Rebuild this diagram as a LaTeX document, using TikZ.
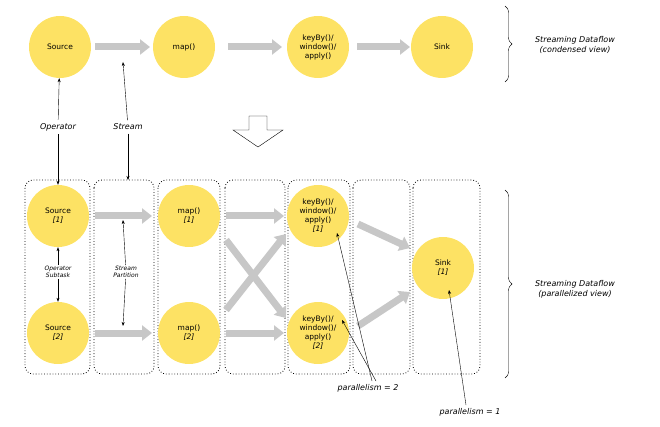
\documentclass[tikz,border=0pt]{standalone}
\usepackage{fontspec}
\setmainfont{DejaVu Sans}
\usetikzlibrary{arrows.meta,decorations.pathreplacing}
\begin{document}
\begin{tikzpicture}[x=1pt,y=-1pt,
  op/.style={circle,fill=yellow!70!orange!60,minimum size=62pt,inner sep=0pt,align=center,font=\fontsize{7.5}{9}\selectfont},
  ga/.style={draw=black!22,line width=7pt,-{Triangle[width=15pt,length=10pt]}},
  ta/.style={-{Stealth[length=4pt]},thin},
  box/.style={draw,dotted,thick,rounded corners=8pt},
  lab/.style={font=\fontsize{8}{10}\selectfont\itshape,align=center},
  sl/.style={font=\fontsize{6}{7}\selectfont\itshape,align=center,fill=white,inner sep=1pt}]
\useasboundingbox (0,0) rectangle (660,427);
% boxes
\foreach \a/\b in {25/90,94/154,158/220,225/285,288/350,353/410,413/480}
  \draw[box] (\a,180) rectangle (\b,374);
% top
\node[op] (s) at (60,47) {Source};
\node[op] (m) at (184,47) {map()};
\node[op] (k) at (318,47) {keyBy()/\\window()/\\apply()};
\node[op] (z) at (442,47) {Sink};
\draw[ga] (95,47) -- (150,47);
\draw[ga] (228,47) -- (282,47);
\draw[ga] (357,47) -- (410,47);
\draw[decorate,decoration={brace,amplitude=7pt}] (505,6) -- (505,82);
\node[lab] at (575,45) {Streaming Dataflow\\(condensed view)};
\node[lab] (opl) at (58,127) {Operator};
\node[lab] (stl) at (128,127) {Stream};
\draw[ta] (opl) -- (s);
\draw[ta] (stl) -- (123,62);
\draw[thin] (249,116) -- (267,116) -- (267,130) -- (283,130) -- (258,147) -- (233,130) -- (249,130) -- cycle;
\node[op] (s1) at (58,216) {Source\\\textit{[1]}};
\node[op] (s2) at (58,333) {Source\\\textit{[2]}};
\node[op] (m1) at (189,216) {map()\\\textit{[1]}};
\node[op] (m2) at (189,333) {map()\\\textit{[2]}};
\node[op] (k1) at (318,216) {keyBy()/\\window()/\\apply()\\\textit{[1]}};
\node[op] (k2) at (318,333) {keyBy()/\\window()/\\apply()\\\textit{[2]}};
\node[op] (z1) at (443,268) {Sink\\\textit{[1]}};
\draw[ta] (opl) -- (s1);
\draw[ta] (stl) -- (128,180);
\draw[ga] (95,216) -- (152,216);
\draw[ga] (95,333) -- (152,333);
\draw[ga] (226,216) -- (284,216);
\draw[ga] (226,333) -- (284,333);
\draw[ga] (226,240) -- (286,318);
\draw[ga] (226,310) -- (286,234);
\draw[ga] (358,224) -- (410,248);
\draw[ga] (358,326) -- (410,292);
\node[sl] (ost) at (58,272) {Operator\\Subtask};
\node[sl] (spt) at (126,272) {Stream\\Partition};
\draw[ta] (ost) -- (s1);
\draw[ta] (ost) -- (s2);
\draw[ta] (spt) -- (123,220);
\draw[ta] (spt) -- (123,326);
\draw[decorate,decoration={brace,amplitude=7pt}] (505,190) -- (505,378);
\node[lab] at (575,289) {Streaming Dataflow\\(parallelized view)};
\node[lab] (p2) at (368,388) {parallelism = 2};
\node[lab] (p1) at (470,412) {parallelism = 1};
\draw[ta] (372,381) -- (337,233);
\draw[ta] (376,381) -- (342,320);
\draw[ta] (466,405) -- (449,290);
\end{tikzpicture}
\end{document}
